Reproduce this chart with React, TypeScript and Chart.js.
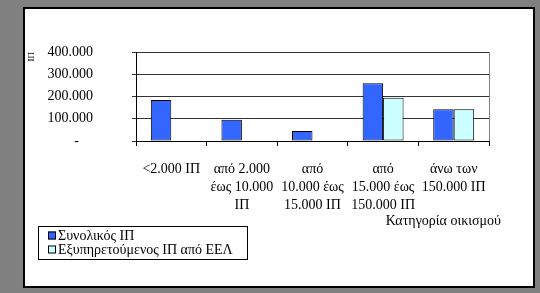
import React, { useEffect, useRef } from "react";
import { Chart, registerables } from "chart.js";

Chart.register(...registerables);

const categories: string[][] = [
  ["<2.000 ΙΠ"],
  ["από 2.000", "έως 10.000", "ΙΠ"],
  ["από", "10.000 έως", "15.000 ΙΠ"],
  ["από", "15.000 έως", "150.000 ΙΠ"],
  ["άνω των", "150.000 ΙΠ"],
];
const totalPE = [184000, 95000, 45000, 260000, 143000];
const servedPE = [null, null, null, 194000, 143000];
const seriesNames = ["Συνολικός ΙΠ", "Εξυπηρετούμενος ΙΠ από ΕΕΛ"];
const yTicks = [0, 100000, 200000, 300000, 400000];
const yTitle = "ΙΠ";
const xTitle = "Κατηγορία οικισμού";

const FONT = "'Liberation Serif', 'Times New Roman', serif";

function fmt(v: number): string {
  if (v === 0) return "-    ";
  return v.toLocaleString("de-DE");
}

const framePlugin = {
  id: "frame",
  beforeDraw(chart: any) {
    const ctx = chart.ctx;
    ctx.save();
    ctx.fillStyle = "#808080";
    ctx.fillRect(0, 0, chart.width, chart.height);
    ctx.fillStyle = "#ffffff";
    ctx.fillRect(23, 7, 512, 281);
    ctx.strokeStyle = "#000000";
    ctx.lineWidth = 2;
    ctx.strokeRect(24, 8, 510, 279);
    ctx.restore();
  },
  afterDraw(chart: any) {
    const ctx = chart.ctx;
    const area = chart.chartArea;
    ctx.save();
    // plot area right border
    ctx.strokeStyle = "#808080";
    ctx.lineWidth = 1;
    ctx.beginPath();
    ctx.moveTo(Math.round(area.right) + 0.5, area.top);
    ctx.lineTo(Math.round(area.right) + 0.5, area.bottom);
    ctx.stroke();
    // x axis title
    ctx.fillStyle = "#000";
    ctx.font = `14px ${FONT}`;
    ctx.textAlign = "right";
    ctx.textBaseline = "middle";
    ctx.fillText(xTitle, 501, 221);
    // legend
    const lx = 38, ly = 226, lw = 209, lh = 33;
    ctx.lineWidth = 1;
    ctx.strokeStyle = "#000";
    ctx.strokeRect(lx + 0.5, ly + 0.5, lw, lh);
    const rows = [235.5, 249.5];
    chart.data.datasets.forEach((ds: any, i: number) => {
      const cy = rows[i];
      ctx.fillStyle = ds.backgroundColor;
      ctx.fillRect(48, cy - 4, 8, 8);
      ctx.strokeStyle = "#000";
      ctx.strokeRect(48.5, cy - 3.5, 7, 7);
      ctx.fillStyle = "#000";
      ctx.textAlign = "left";
      ctx.textBaseline = "middle";
      ctx.fillText(ds.label, 58, cy + 1);
    });
    ctx.restore();
  },
};

export default function App() {
  const ref = useRef<HTMLCanvasElement | null>(null);
  useEffect(() => {
    document.body.style.margin = "0";
    document.body.style.background = "#808080";
    const canvas = ref.current!;
    const chart = new Chart(canvas, {
      type: "bar",
      data: {
        labels: categories,
        datasets: [
          {
            label: seriesNames[0],
            data: totalPE,
            backgroundColor: "#3366FF",
            borderColor: "#000000",
            borderWidth: 1,
            borderSkipped: false,
          },
          {
            label: seriesNames[1],
            data: servedPE,
            backgroundColor: "#CCFFFF",
            borderColor: "#000000",
            borderWidth: 1,
            borderSkipped: false,
          },
        ],
      },
      options: {
        responsive: false,
        animation: false,
        devicePixelRatio: 1,
        layout: { padding: { left: 24, top: 52, right: 51, bottom: 72 } },
        datasets: { bar: { categoryPercentage: 0.58, barPercentage: 1 } },
        plugins: {
          legend: { display: false },
          tooltip: { enabled: false },
        },
        scales: {
          x: {
            afterFit: (s: any) => {
              s.height = 80;
            },
            grid: {
              offset: true,
              drawOnChartArea: false,
              drawTicks: true,
              tickLength: 5,
              color: "#000",
            },
            border: { color: "#000", width: 1 },
            ticks: {
              color: "#000",
              padding: 14,
              maxRotation: 0,
              autoSkip: false,
              font: { family: FONT, size: 14, lineHeight: 1.3 },
            },
          },
          y: {
            min: 0,
            max: 400000,
            afterFit: (s: any) => {
              s.width = 112;
            },
            afterBuildTicks: (s: any) => {
              s.ticks = yTicks.map((v) => ({ value: v }));
            },
            grid: {
              color: "#333",
              drawTicks: true,
              tickLength: 4,
            },
            border: { color: "#000", width: 1 },
            ticks: {
              color: "#000",
              padding: 39,
              font: { family: FONT, size: 14 },
              callback: (v: any) => fmt(Number(v)),
            },
            title: {
              display: true,
              text: yTitle,
              align: "end",
              color: "#000",
              padding: 2,
              font: { family: FONT, size: 9 },
            },
          },
        },
      },
      plugins: [framePlugin],
    });
    return () => chart.destroy();
  }, []);
  return (
    <div style={{ width: 540, height: 293, background: "#808080" }}>
      <canvas ref={ref} width={540} height={293} style={{ display: "block" }} />
    </div>
  );
}
